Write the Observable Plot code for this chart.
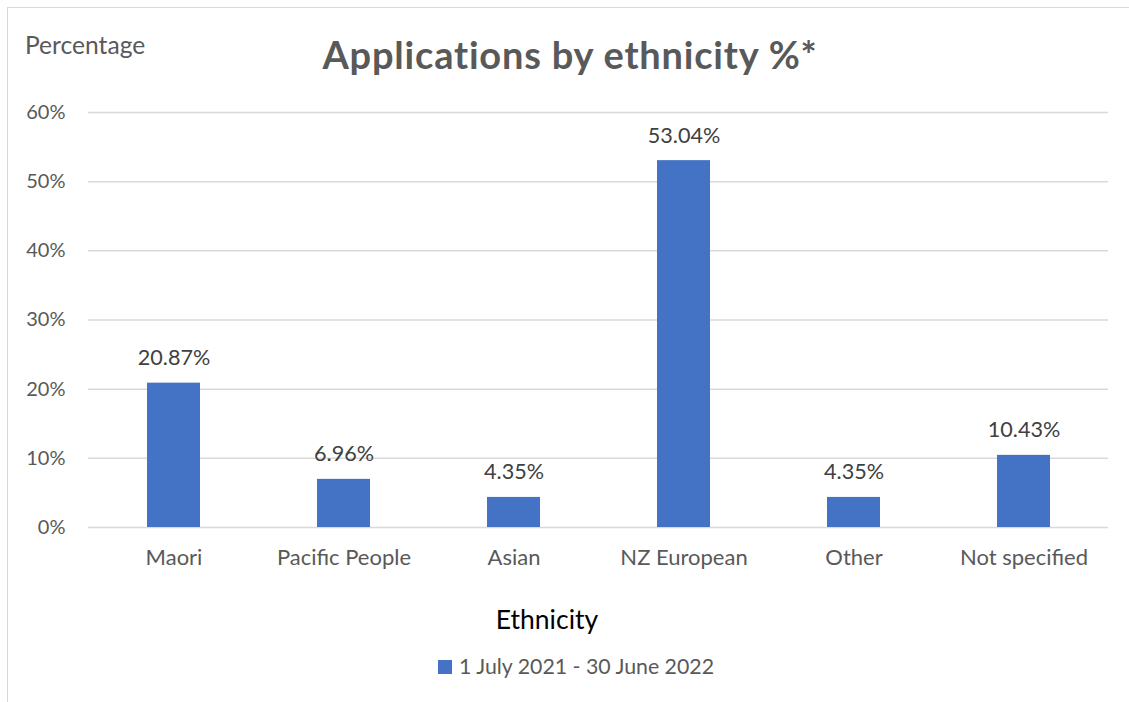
<!DOCTYPE html>
<html>
<head>
<meta charset="utf-8">
<script src="https://cdn.jsdelivr.net/npm/d3@7"></script>
<script src="https://cdn.jsdelivr.net/npm/@observablehq/plot@0.6"></script>
<style>
  html, body { margin: 0; padding: 0; background: #fff; }
  #wrap { position: relative; width: 1129px; height: 702px; overflow: hidden; font-family: Lato, "Noto Sans", sans-serif; }
  #border { position: absolute; left: 7px; top: 7px; width: 1140px; height: 720px; border: 1px solid #d9d9d9; box-sizing: border-box; }
  .t { position: absolute; white-space: nowrap; line-height: 1.2; }
  #title { left: 0; width: 1140px; text-align: center; top: 32px; font-size: 38px; letter-spacing: 0.8px; font-weight: bold; color: #595959; }
  #ylab { left: 25px; top: 30px; font-size: 24.6px; color: #595959; }
  #xlab { left: 0; width: 1094px; text-align: center; top: 604px; font-size: 26.5px; color: #000; }
  #legend { left: 438px; top: 654px; font-size: 21.3px; color: #595959; display: flex; align-items: center; }
  #legend .sw { width: 14px; height: 14px; background: #4472C4; margin-right: 7px; }
  #chart { position: absolute; left: 0; top: 0; }
</style>
</head>
<body>
<div id="wrap">
  <div id="border"></div>
  <div id="chart"></div>
  <div class="t" id="title">Applications by ethnicity %*</div>
  <div class="t" id="ylab">Percentage</div>
  <div class="t" id="xlab">Ethnicity</div>
  <div class="t" id="legend"><span class="sw"></span><span id="legtext"></span></div>
</div>
<script>
const categories = ["Maori", "Pacific People", "Asian", "NZ European", "Other", "Not specified"];
const values = [20.87, 6.96, 4.35, 53.04, 4.35, 10.43];
const yTicks = [0, 10, 20, 30, 40, 50, 60];
const seriesName = "1 July 2021 - 30 June 2022";

document.getElementById("legtext").textContent = seriesName;

const data = categories.map((c, i) => ({category: c, value: values[i]}));

const chart = Plot.plot({
  width: 1129,
  height: 702,
  marginLeft: 88,
  marginRight: 21,
  marginTop: 112,
  marginBottom: 175,
  style: {fontFamily: "Lato, 'Noto Sans', sans-serif", fontSize: "20px", color: "#595959", background: "transparent"},
  x: {domain: categories, paddingInner: 0.69, paddingOuter: 0.345, label: null},
  y: {domain: [0, 60], label: null},
  marks: [
    Plot.gridY(yTicks, {stroke: "#d9d9d9", strokeOpacity: 1, strokeWidth: 1.5}),
    Plot.barY(data, {x: "category", y: "value", fill: "#4472C4"}),
    Plot.text(data, {x: "category", y: "value", text: d => d.value.toFixed(2) + "%", dy: -25, fill: "#404040", fontSize: 21.6}),
    Plot.axisY(yTicks, {tickSize: 0, tickPadding: 23, tickFormat: d => d + "%", fontSize: 20, fill: "#595959", label: null}),
    Plot.axisX({tickSize: 0, tickPadding: 22, fontSize: 22, fill: "#595959", label: null})
  ]
});
document.getElementById("chart").appendChild(chart);
</script>
</body>
</html>
